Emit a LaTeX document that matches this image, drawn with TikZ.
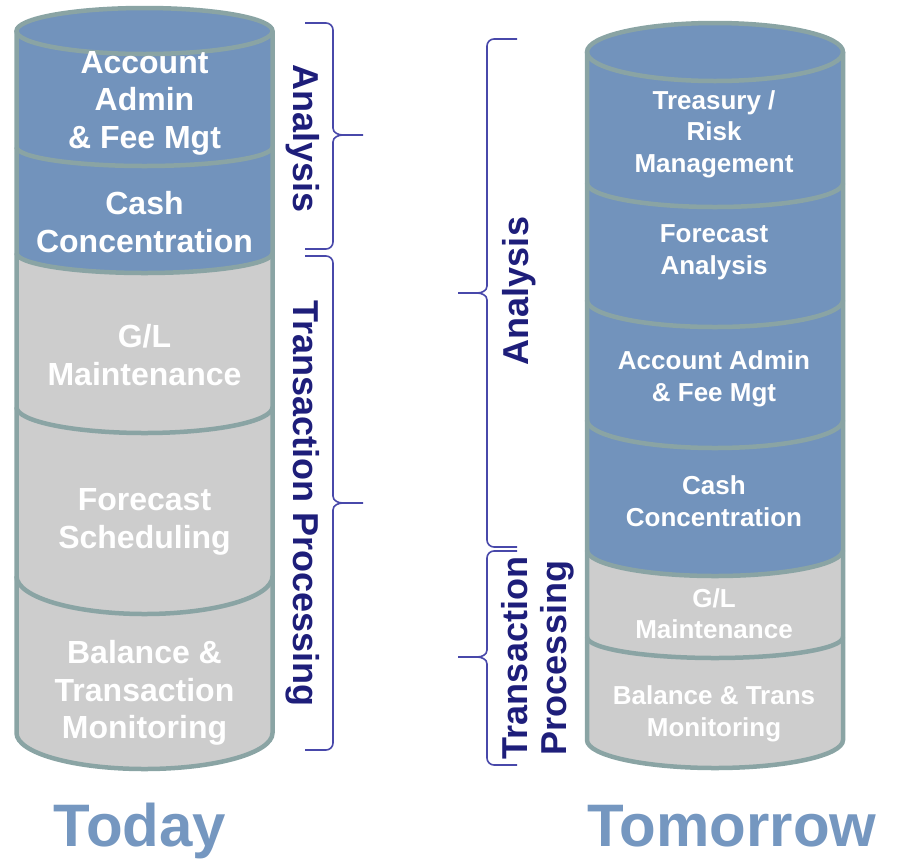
\documentclass[tikz,border=0pt]{standalone}
\usepackage{fontspec}
\setmainfont{Liberation Sans}
\usetikzlibrary{positioning}

\definecolor{segblue}{RGB}{114,147,188}
\definecolor{seggray}{RGB}{205,205,205}
\definecolor{rim}{RGB}{138,164,164}
\definecolor{bracecol}{RGB}{72,72,170}
\definecolor{navy}{RGB}{30,30,122}
\definecolor{titleblue}{RGB}{117,151,192}

\begin{document}
\begin{tikzpicture}[x=1pt,y=1pt,
    rimline/.style={draw=rim,line width=4.5pt},
    bracket/.style={draw=bracecol,line width=1.6pt},
    bigtag/.style={text=white,font=\bfseries\fontsize{32}{37.5}\selectfont,align=center},
    smalltag/.style={text=white,font=\bfseries\fontsize{26}{31.5}\selectfont,align=center},
    sidetag/.style={text=navy,font=\bfseries\fontsize{36}{39}\selectfont,align=center},
    titletag/.style={text=titleblue,font=\bfseries\fontsize{60}{60}\selectfont,anchor=base}]

  \useasboundingbox (0,0) rectangle (902,-860);

  % Today = left cylinder
  \fill[segblue] (144.5,-31) ellipse[x radius=128,y radius=23];
  \foreach \ya/\ra/\yb/\rb/\fc in {31/23/147/19/segblue, 147/19/253/20/segblue,
      253/20/407/26/seggray, 407/26/576/38/seggray, 576/38/733/36/seggray}
    \fill[\fc] (16.5,-\ya) arc[start angle=180,end angle=360,x radius=128,y radius=\ra]
      -- (272.5,-\yb) arc[start angle=0,end angle=-180,x radius=128,y radius=\rb] -- cycle;
  \draw[rimline] (144.5,-31) ellipse[x radius=128,y radius=23];
  \draw[rimline] (16.5,-31) -- (16.5,-733)
    arc[start angle=180,end angle=360,x radius=128,y radius=36] -- (272.5,-31);
  \foreach \y/\r in {147/19, 253/20, 407/26, 576/38}
    \draw[rimline] (16.5,-\y) arc[start angle=180,end angle=360,x radius=128,y radius=\r];

  \node[bigtag] (acctL) at (144.5,-103) {Account\\Admin\\\& Fee Mgt};
  \node[bigtag] (cashL) at (144.5,-222) {Cash\\Concentration};
  \node[bigtag] (glL) at (144.5,-355) {G/L\\Maintenance};
  \node[bigtag] (fcstL) at (144.5,-522) {Forecast\\Scheduling};
  \node[bigtag] (balL) at (144.5,-693) {Balance \&\\Transaction\\Monitoring};

  % Tomorrow = right cylinder
  \fill[segblue] (715,-52) ellipse[x radius=128,y radius=29];
  \foreach \ya/\ra/\yb/\rb/\fc in {52/29/183/24/segblue, 183/24/300/27/segblue,
      300/27/420/28/segblue, 420/28/550/26/segblue, 550/26/637/21/seggray,
      637/21/740/28/seggray}
    \fill[\fc] (587,-\ya) arc[start angle=180,end angle=360,x radius=128,y radius=\ra]
      -- (843,-\yb) arc[start angle=0,end angle=-180,x radius=128,y radius=\rb] -- cycle;
  \draw[rimline] (715,-52) ellipse[x radius=128,y radius=29];
  \draw[rimline] (587,-52) -- (587,-740)
    arc[start angle=180,end angle=360,x radius=128,y radius=28] -- (843,-52);
  \foreach \y/\r in {183/24, 300/27, 420/28, 550/26, 637/21}
    \draw[rimline] (587,-\y) arc[start angle=180,end angle=360,x radius=128,y radius=\r];

  \node[smalltag] (riskR) at (714,-134) {Treasury /\\Risk\\Management};
  \node[smalltag] (fcstR) at (714,-252) {Forecast\\Analysis};
  \node[smalltag] (acctR) at (714,-379) {Account Admin\\\& Fee Mgt};
  \node[smalltag] (cashR) at (714,-501) {Cash\\Concentration};
  \node[smalltag] (glR) at (714,-613.5) {G/L\\Maintenance};
  \node[smalltag] (balR) at (714,-714) {Balance \& Trans\\Monitoring};

  % Braces, left side: top/tip/bottom
  \foreach \ya/\ym/\yb in {23/135/249, 256/503/750}
    \draw[bracket] (305,-\ya) -- (326,-\ya) to[out=0,in=90] (333,-\ya-7)
      -- (333,-\ym+7) to[out=-90,in=180] (343,-\ym) -- (363,-\ym) -- (343,-\ym)
      to[out=180,in=90] (333,-\ym-7) -- (333,-\yb+7) to[out=-90,in=0] (326,-\yb) -- (305,-\yb);

  % Braces, right side: top/tip/bottom
  \foreach \ya/\ym/\yb in {39/293/547, 551/657/765}
    \draw[bracket] (517,-\ya) -- (494,-\ya) to[out=180,in=90] (487,-\ya-7)
      -- (487,-\ym+7) to[out=-90,in=0] (477,-\ym) -- (458,-\ym) -- (477,-\ym)
      to[out=0,in=90] (487,-\ym-7) -- (487,-\yb+7) to[out=-90,in=180] (494,-\yb) -- (517,-\yb);

  % Side labels
  \node[sidetag,rotate=-90,anchor=base] (anaL) at (293,-138.5) {Analysis};
  \node[sidetag,rotate=-90,anchor=base] (tpL) at (293,-503.5) {Transaction Processing};
  \node[sidetag,rotate=90,anchor=base] (anaR) at (528,-291) {Analysis};
  \node[sidetag,rotate=90] (tpR) at (538,-658) {Transaction\\Processing};

  % Titles
  \node[titletag] (today) at (140,-846) {Today};
  \node[titletag] (tomorrow) at (732,-846) {Tomorrow};

\end{tikzpicture}
\end{document}
